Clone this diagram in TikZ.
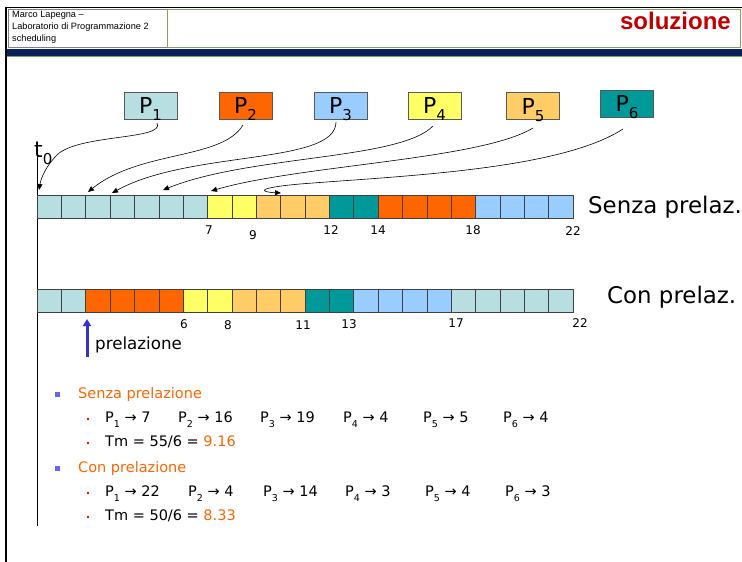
\documentclass[tikz,border=0pt]{standalone}
\usepackage{fontspec}
\setmainfont{DejaVu Sans}
\newfontfamily\arialf{Liberation Sans}
\usetikzlibrary{arrows.meta,calc}
\definecolor{cpa}{HTML}{B7DEE0}
\definecolor{cpb}{HTML}{FF6600}
\definecolor{cpc}{HTML}{99CCFF}
\definecolor{cpd}{HTML}{FFFF66}
\definecolor{cpe}{HTML}{FFCC66}
\definecolor{cpf}{HTML}{009999}
\definecolor{orng}{HTML}{FF6600}
\definecolor{navyb}{HTML}{0A2058}
\definecolor{hgreen}{HTML}{7FA35F}
\definecolor{dred}{HTML}{C00000}
\definecolor{bulblue}{HTML}{6666FF}
\definecolor{arrblue}{HTML}{3333CC}
\newcommand{\sbs}[2]{\smash{\raisebox{-0.32em}{\fontsize{#1}{#1}\selectfont #2}}}
\newcommand{\ra}{ → }
\tikzset{
  pbox/.style={draw=black!65, line width=0.6pt, minimum width=53, minimum height=27, inner sep=0pt, font=\fontsize{22}{22}\selectfont},
  cell/.style={draw=black!75, line width=0.6pt},
  conn/.style={draw=black, line width=0.6pt, -{Triangle[length=6pt,width=5pt]}},
  tick/.style={font=\fontsize{12}{12}\selectfont, inner sep=0pt},
  big/.style={font=\fontsize{22.9}{23}\selectfont, inner sep=0pt, anchor=mid west},
  body/.style={font=\fontsize{14.5}{15}\selectfont, inner sep=0pt, anchor=mid west},
  hdr/.style={font=\arialf\fontsize{9.2}{10}\selectfont, inner sep=0pt, anchor=mid west},
}
\begin{document}
\begin{tikzpicture}[x=1pt,y=-1pt]
\useasboundingbox (0,0) rectangle (742,562);
% frame and header
\fill[white] (0,0) rectangle (742,562);
\draw[line width=1.6pt] (5,7.5) -- (742,7.5);
\draw[line width=2pt] (6,7) -- (6,562);
\draw[black!50, line width=0.5pt] (8,9) rectangle (167,47);
\draw[hgreen, line width=0.8pt] (167,9) rectangle (740,47);
\fill[navyb] (7,48.5) rectangle (742,55.5);
\draw[hgreen, line width=0.8pt] (7,56) -- (742,56);
\node[hdr] (h1) at (12,15) {Marco Lapegna –};
\node[hdr] (h2) at (12,27) {Laboratorio di Programmazione 2};
\node[hdr] (h3) at (12,38.5) {scheduling};
\node[font=\arialf\bfseries\fontsize{24}{24}\selectfont, text=dred, anchor=mid east, inner sep=0pt] (sol) at (731,27) {soluzione};
% process boxes
\node[pbox, fill=cpa] (p1) at (150.5,105.5) {P\sbs{15}{1}};
\node[pbox, fill=cpb] (p2) at (245.5,105.5) {P\sbs{15}{2}};
\node[pbox, fill=cpc] (p3) at (340.5,105.5) {P\sbs{15}{3}};
\node[pbox, fill=cpd] (p4) at (434.5,105.5) {P\sbs{15}{4}};
\node[pbox, fill=cpe] (p5) at (533,106) {P\sbs{15}{5}};
\node[pbox, fill=cpf] (p6) at (627,103.5) {P\sbs{15}{6}};
% time axis
\draw[line width=0.8pt] (37,142) -- (37,526);
\node[font=\fontsize{22}{22}\selectfont, inner sep=0pt, anchor=base west] (t0) at (34,157) {t\sbs{15}{0}};
% timelines
\pgfmathsetmacro{\cw}{536/22}
\foreach \c [count=\i from 0] in {cpa,cpa,cpa,cpa,cpa,cpa,cpa,cpd,cpd,cpe,cpe,cpe,cpf,cpf,cpb,cpb,cpb,cpb,cpc,cpc,cpc,cpc}
  \draw[cell, fill=\c] ({37+\i*\cw},195) rectangle ({37+(\i+1)*\cw},218);
\foreach \c [count=\i from 0] in {cpa,cpa,cpb,cpb,cpb,cpb,cpd,cpd,cpe,cpe,cpe,cpf,cpf,cpc,cpc,cpc,cpc,cpa,cpa,cpa,cpa,cpa}
  \draw[cell, fill=\c] ({37+\i*\cw},289) rectangle ({37+(\i+1)*\cw},312);
% tick labels
\node[tick] (a7) at (209,230) {7};
\node[tick] (a9) at (253,235) {9};
\node[tick] (a12) at (331,230) {12};
\node[tick] (a14) at (378,230) {14};
\node[tick] (a18) at (473,230) {18};
\node[tick] (a22) at (573,231) {22};
\node[tick] (b6) at (184,324) {6};
\node[tick] (b8) at (228,325) {8};
\node[tick] (b11) at (303,325) {11};
\node[tick] (b13) at (349,324) {13};
\node[tick] (b17) at (456,323) {17};
\node[tick] (b22) at (580,323) {22};
\node[big] (senza) at (588,211) {Senza prelaz.};
\node[big] (con) at (607,301) {Con prelaz.};
% arrival arrows
\coordinate (s1) at (157,123); \coordinate (e1) at (39,190);
\coordinate (s2) at (243,125); \coordinate (e2) at (88,192);
\coordinate (s3) at (336,122); \coordinate (e3) at (112,193);
\coordinate (s4) at (433,126); \coordinate (e4) at (163,190);
\coordinate (s5) at (533,128); \coordinate (e5) at (211,191);
\coordinate (s6) at (623,129); \coordinate (e6) at (281,193);
\draw[conn] (s1) .. controls (166,140) and (78,134) .. (57,155) .. controls (46,166) and (41,178) .. (e1);
\draw[conn] (s2) .. controls (222,160) and (140,150) .. (e2);
\draw[conn] (s3) .. controls (336,165) and (190,150) .. (e3);
\draw[conn] (s4) .. controls (400,160) and (250,155) .. (e4);
\draw[conn] (s5) .. controls (480,160) and (300,165) .. (e5);
\draw[conn] (s6) .. controls (560,170) and (400,176) .. (300,184) .. controls (255,188) and (260,192) .. (e6);
% preemption arrow
\coordinate (pa) at (87,357); \coordinate (pb) at (87,319);
\draw[arrblue, line width=3pt, -{Triangle[length=7pt,width=8pt]}] (pa) -- (pb);
\node[font=\fontsize{16.7}{17}\selectfont, inner sep=0pt, anchor=mid west] (prel) at (95,347) {prelazione};
% bullets
\fill[bulblue] (54.5,391.5) rectangle (59.5,396.5);
\fill[bulblue] (54.5,465.5) rectangle (59.5,470.5);
\foreach \y in {419,443,493,517} \fill[red] (88,\y) circle (1.3);
\node[body, text=orng] (sp) at (78,396) {Senza prelazione};
\node[body] (r1) at (105,420) {P\sbs{9.5}{1}\ra 7};
\node[body] (r2) at (178,420) {P\sbs{9.5}{2}\ra 16};
\node[body] (r3) at (260,420) {P\sbs{9.5}{3}\ra 19};
\node[body] (r4) at (343,420) {P\sbs{9.5}{4}\ra 4};
\node[body] (r5) at (423,420) {P\sbs{9.5}{5}\ra 5};
\node[body] (r6) at (503,420) {P\sbs{9.5}{6}\ra 4};
\node[body] (tm1) at (105,444) {Tm = 55/6 = \textcolor{orng}{9.16}};
\node[body, text=orng] (cp) at (78,470) {Con prelazione};
\node[body] (q1) at (105,494) {P\sbs{9.5}{1}\ra 22};
\node[body] (q2) at (188,494) {P\sbs{9.5}{2}\ra 4};
\node[body] (q3) at (263,494) {P\sbs{9.5}{3}\ra 14};
\node[body] (q4) at (345,494) {P\sbs{9.5}{4}\ra 3};
\node[body] (q5) at (425,494) {P\sbs{9.5}{5}\ra 4};
\node[body] (q6) at (505,494) {P\sbs{9.5}{6}\ra 3};
\node[body] (tm2) at (105,518) {Tm = 50/6 = \textcolor{orng}{8.33}};
\end{tikzpicture}
\end{document}
